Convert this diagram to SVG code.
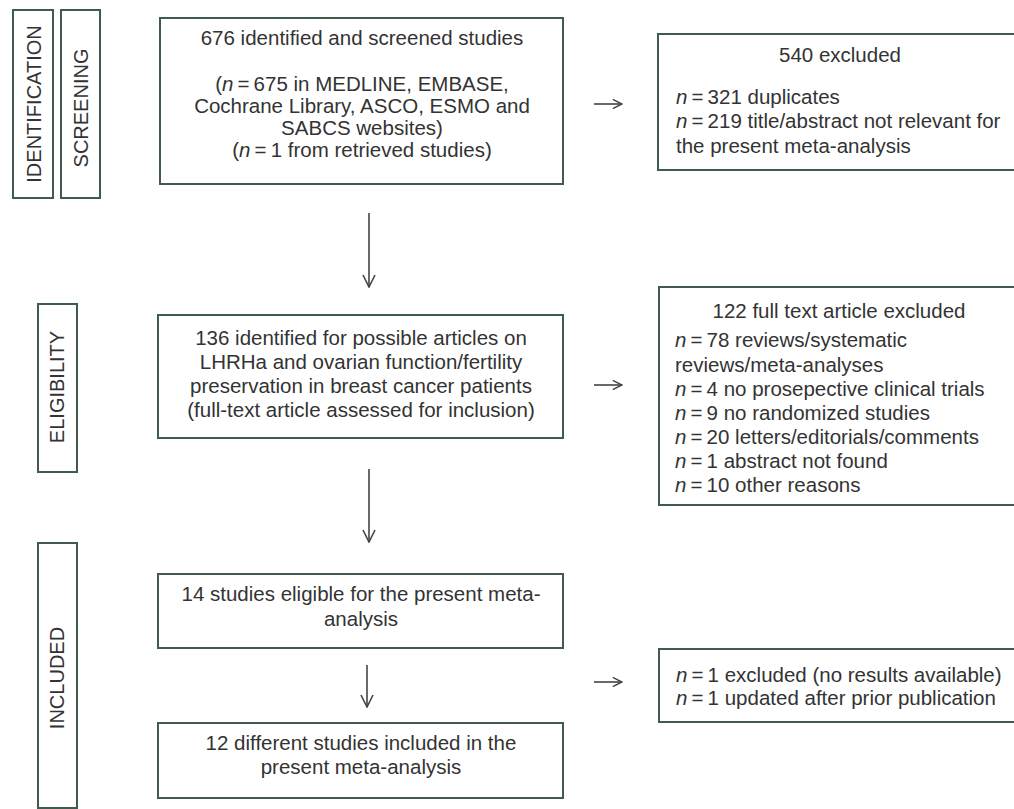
<svg xmlns="http://www.w3.org/2000/svg" width="1014" height="809" viewBox="0 0 1014 809">
<defs>
<style>
.box{fill:#fff;stroke:#3e5b4e;stroke-width:2}
.t{font-family:"Liberation Sans",Arial,sans-serif;font-size:20.5px;fill:#333}
.c{text-anchor:middle}
.i{font-style:italic}
.lab{font-family:"Liberation Sans",Arial,sans-serif;font-size:20px;fill:#333;text-anchor:middle}
.arr{fill:none;stroke:#444;stroke-width:1.6}
</style>
<marker id="ah" viewBox="0 0 14 14" refX="13" refY="7" markerWidth="14" markerHeight="14" markerUnits="userSpaceOnUse" orient="auto">
<path d="M1,1 L13,7 L1,13" fill="none" stroke="#444" stroke-width="1.6"/>
</marker>
<marker id="ahs" viewBox="0 0 12 12" refX="11" refY="6" markerWidth="11" markerHeight="11" markerUnits="userSpaceOnUse" orient="auto">
<path d="M1,1 L11,6 L1,11" fill="none" stroke="#444" stroke-width="1.6"/>
</marker>
</defs>
<rect width="1014" height="809" fill="#fff"/>

<g id="label-identification">
<rect class="box" x="13" y="10" width="40" height="188"/>
<text class="lab" transform="translate(41,104) rotate(-90)">IDENTIFICATION</text>
</g>
<g id="label-screening">
<rect class="box" x="61" y="10" width="39" height="188"/>
<text class="lab" transform="translate(88,108) rotate(-90)">SCREENING</text>
</g>
<g id="label-eligibility">
<rect class="box" x="38" y="304" width="39" height="168"/>
<text class="lab" transform="translate(64,387) rotate(-90)">ELIGIBILITY</text>
</g>
<g id="label-included">
<rect class="box" x="38" y="543" width="39" height="265"/>
<text class="lab" transform="translate(64,678) rotate(-90)">INCLUDED</text>
</g>

<g id="box-identified">
<rect class="box" x="160" y="18" width="403" height="166"/>
<text class="t c" x="362" y="45">676 identified and screened studies</text>
<text class="t c" x="362" y="91">(<tspan class="i">n</tspan>&#8201;=&#8201;675 in MEDLINE, EMBASE,</text>
<text class="t c" x="362" y="113">Cochrane Library, ASCO, ESMO and</text>
<text class="t c" x="362" y="135">SABCS websites)</text>
<text class="t c" x="362" y="157">(<tspan class="i">n</tspan>&#8201;=&#8201;1 from retrieved studies)</text>
</g>

<g id="box-excluded-540">
<rect class="box" x="658" y="34" width="400" height="136"/>
<text class="t c" x="840" y="62">540 excluded</text>
<text class="t" x="676" y="104"><tspan class="i">n</tspan>&#8201;=&#8201;321 duplicates</text>
<text class="t" x="676" y="128"><tspan class="i">n</tspan>&#8201;=&#8201;219 title/abstract not relevant for</text>
<text class="t" x="676" y="153">the present meta-analysis</text>
</g>

<g id="box-fulltext">
<rect class="box" x="158" y="315" width="405" height="123"/>
<text class="t c" x="361" y="345">136 identified for possible articles on</text>
<text class="t c" x="361" y="369">LHRHa and ovarian function/fertility</text>
<text class="t c" x="361" y="393">preservation in breast cancer patients</text>
<text class="t c" x="361" y="417">(full-text article assessed for inclusion)</text>
</g>

<g id="box-excluded-122">
<rect class="box" x="659" y="287" width="400" height="218"/>
<text class="t c" x="839" y="318">122 full text article excluded</text>
<text class="t" x="675" y="347"><tspan class="i">n</tspan>&#8201;=&#8201;78 reviews/systematic</text>
<text class="t" x="675" y="372">reviews/meta-analyses</text>
<text class="t" x="675" y="396"><tspan class="i">n</tspan>&#8201;=&#8201;4 no prosepective clinical trials</text>
<text class="t" x="675" y="420"><tspan class="i">n</tspan>&#8201;=&#8201;9 no randomized studies</text>
<text class="t" x="675" y="444"><tspan class="i">n</tspan>&#8201;=&#8201;20 letters/editorials/comments</text>
<text class="t" x="675" y="468"><tspan class="i">n</tspan>&#8201;=&#8201;1 abstract not found</text>
<text class="t" x="675" y="492"><tspan class="i">n</tspan>&#8201;=&#8201;10 other reasons</text>
</g>

<g id="box-eligible">
<rect class="box" x="158" y="574" width="405" height="74"/>
<text class="t c" x="361" y="601">14 studies eligible for the present meta-</text>
<text class="t c" x="361" y="626">analysis</text>
</g>

<g id="box-excluded-2">
<rect class="box" x="659" y="649" width="400" height="73"/>
<text class="t" x="676" y="682"><tspan class="i">n</tspan>&#8201;=&#8201;1 excluded (no results available)</text>
<text class="t" x="676" y="705"><tspan class="i">n</tspan>&#8201;=&#8201;1 updated after prior publication</text>
</g>

<g id="box-included">
<rect class="box" x="158" y="723" width="405" height="75"/>
<text class="t c" x="361" y="750">12 different studies included in the</text>
<text class="t c" x="361" y="774">present meta-analysis</text>
</g>

<g id="connectors">
<line class="arr" x1="369" y1="213" x2="369" y2="287" marker-end="url(#ah)"/>
<line class="arr" x1="369" y1="469" x2="369" y2="542" marker-end="url(#ah)"/>
<line class="arr" x1="367" y1="665" x2="367" y2="707" marker-end="url(#ah)"/>
<line class="arr" x1="594" y1="104" x2="622" y2="104" marker-end="url(#ahs)"/>
<line class="arr" x1="594" y1="385" x2="622" y2="385" marker-end="url(#ahs)"/>
<line class="arr" x1="594" y1="682" x2="622" y2="682" marker-end="url(#ahs)"/>
</g>
</svg>
